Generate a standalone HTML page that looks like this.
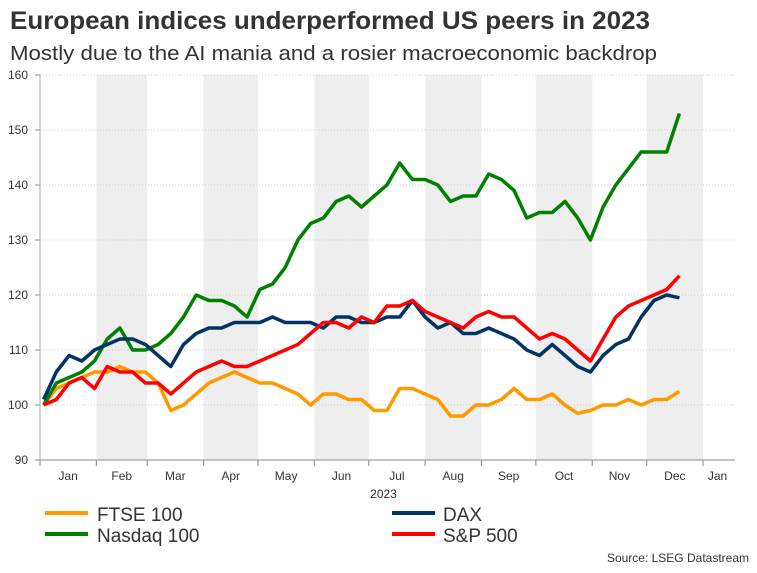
<!DOCTYPE html>
<html><head><meta charset="utf-8"><style>
body{margin:0;background:#fff;font-family:"Liberation Sans",sans-serif;}
svg text{font-family:"Liberation Sans",sans-serif;}
</style></head><body>
<svg id="c" width="757" height="568">
<text x="10" y="29" font-size="25" font-weight="bold" fill="#333" textLength="640" lengthAdjust="spacingAndGlyphs">European indices underperformed US peers in 2023</text>
<text x="10" y="60" font-size="20.5" fill="#333" textLength="647" lengthAdjust="spacingAndGlyphs">Mostly due to the AI mania and a rosier macroeconomic backdrop</text>
<g id="bands"></g><g id="grid"></g><g id="axes"></g><g id="series"></g>
<g>
<line x1="45" y1="513" x2="88" y2="513" stroke="#FF9900" stroke-width="4"/><text x="97" y="521" font-size="19" fill="#333">FTSE 100</text>
<line x1="45" y1="534" x2="88" y2="534" stroke="#008000" stroke-width="4"/><text x="97" y="542" font-size="19" fill="#333">Nasdaq 100</text>
<line x1="392" y1="513" x2="435" y2="513" stroke="#003366" stroke-width="4"/><text x="443" y="521" font-size="19" fill="#333">DAX</text>
<line x1="392" y1="534" x2="435" y2="534" stroke="#FF0000" stroke-width="4"/><text x="443" y="542" font-size="19" fill="#333">S&amp;P 500</text>
</g>
<text x="749" y="562" font-size="12" fill="#333" text-anchor="end">Source: LSEG Datastream</text>
</svg>
<script>
const months=["Jan","Feb","Mar","Apr","May","Jun","Jul","Aug","Sep","Oct","Nov","Dec","Jan"];
const monthStartDays=[0,31,59,90,120,151,181,212,243,273,304,334,365];
const yTicks=[90,100,110,120,130,140,150,160];
const weekStep=7, firstDay=2;
const nasdaq=[100,104,105,106,108,112,114,110,110,111,113,116,120,119,119,118,116,121,122,125,130,133,134,137,138,136,138,140,144,141,141,140,137,138,138,142,141,139,134,135,135,137,134,130,136,140,143,146,146,146,153];
const dax=[101,106,109,108,110,111,112,112,111,109,107,111,113,114,114,115,115,115,116,115,115,115,114,116,116,115,115,116,116,119,116,114,115,113,113,114,113,112,110,109,111,109,107,106,109,111,112,116,119,120,119.5];
const sp500=[100,101,104,105,103,107,106,106,104,104,102,104,106,107,108,107,107,108,109,110,111,113,115,115,114,116,115,118,118,119,117,116,115,114,116,117,116,116,114,112,113,112,110,108,112,116,118,119,120,121,123.5];
const ftse=[100,103,104,105,106,106,107,106,106,104,99,100,102,104,105,106,105,104,104,103,102,100,102,102,101,101,99,99,103,103,102,101,98,98,100,100,101,103,101,101,102,100,98.5,99,100,100,101,100,101,101,102.5];
const NS="http://www.w3.org/2000/svg";
const X0=40,X1=703,AX_END=735,Y0=460,Y1=75;
const xs=d=>X0+d*(X1-X0)/365;
const ys=v=>Y0-(v-90)*(Y0-Y1)/70;
function el(t,a,p){const e=document.createElementNS(NS,t);for(const k in a)e.setAttribute(k,a[k]);p.appendChild(e);return e;}
const bands=document.getElementById('bands'),grid=document.getElementById('grid'),axes=document.getElementById('axes'),series=document.getElementById('series');
for(let i=1;i<12;i+=2){
 const r=el('rect',{x:xs(monthStartDays[i]),y:Y1,width:xs(monthStartDays[i+1])-xs(monthStartDays[i]),height:Y0-Y1,fill:'#eeeeee'},bands);
 
 
}
yTicks.forEach(v=>{
 if(v>90){const g=el('line',{x1:X0,x2:AX_END,y1:ys(v),y2:ys(v),stroke:'#ccc','stroke-dasharray':'1,2'},grid);
 
 }
 el('line',{x1:X0-5,x2:X0,y1:ys(v),y2:ys(v),stroke:'#888'},axes);
 const t=el('text',{x:X0-12,y:ys(v)+4,'font-size':12,fill:'#333','text-anchor':'end'},axes);t.textContent=v;
 
 
});
el('line',{x1:X0,x2:X0,y1:Y1,y2:Y0,stroke:'#aaa'},axes);
el('line',{x1:X0,x2:AX_END,y1:Y0,y2:Y0,stroke:'#888'},axes);
months.forEach((m,i)=>{
 const d=monthStartDays[i];
 el('line',{x1:xs(d),x2:xs(d),y1:Y0,y2:Y0+6,stroke:'#888'},axes);
 const mid=i<12?(d+monthStartDays[i+1])/2:d+8;
 const t=el('text',{x:xs(mid),y:Y0+20,'font-size':12,fill:'#333','text-anchor':'middle'},axes);t.textContent=m;
 
 
});
const yr=el('text',{x:(X0+X1)/2+12,y:Y0+38,'font-size':12,fill:'#333','text-anchor':'middle'},axes);yr.textContent='2023';


function draw(arr,col,name){
 const pts=arr.map((v,i)=>xs(firstDay+i*weekStep).toFixed(1)+','+ys(v).toFixed(1)).join(' ');
 const p=el('polyline',{points:pts,fill:'none',stroke:col,'stroke-width':3.5,'stroke-linejoin':'round'},series);
 
 
}
draw(ftse,'#FF9900','ftse-line');
draw(nasdaq,'#008000','nasdaq-line');
draw(dax,'#003366','dax-line');
draw(sp500,'#FF0000','sp500-line');
</script>
</body></html>
